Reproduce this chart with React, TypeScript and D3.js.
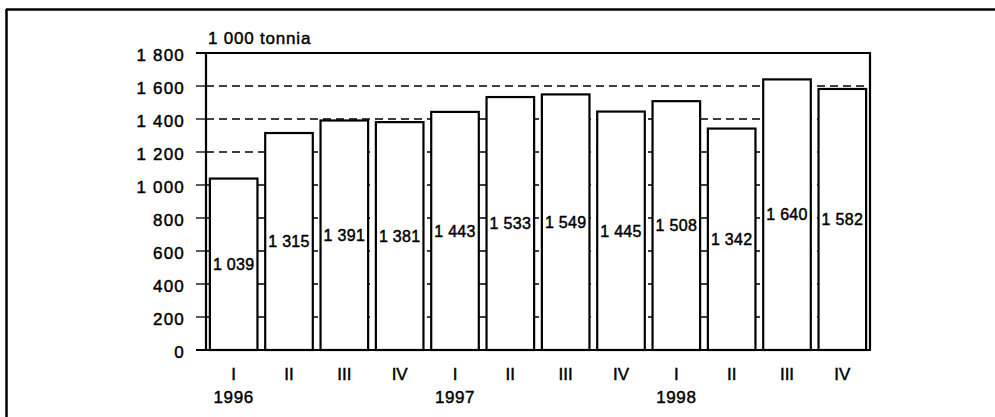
import React from "react";
import * as d3 from "d3";

const quarters = ["I", "II", "III", "IV", "I", "II", "III", "IV", "I", "II", "III", "IV"];
const years = ["1996", "", "", "", "1997", "", "", "", "1998", "", "", ""];
const values = [1039, 1315, 1391, 1381, 1443, 1533, 1549, 1445, 1508, 1342, 1640, 1582];
const yTicks = [0, 200, 400, 600, 800, 1000, 1200, 1400, 1600, 1800];
const unitLabel = "1 000 tonnia";

const W = 995;
const H = 417;
const left = 206;
const right = 870;
const top = 53;
const bottom = 350;

const fmt = (v: number) => {
  const s = String(v);
  return s.length > 3 ? s.slice(0, s.length - 3) + " " + s.slice(-3) : s;
};

export default function App() {
  const idx = values.map((_, i) => String(i));
  const x = d3.scaleBand<string>().domain(idx).range([left, right]).paddingInner(0.14).paddingOuter(0.07);
  const y = d3.scaleLinear().domain([0, 1800]).range([bottom, top]);
  const font = "'Liberation Sans', Arial, Helvetica, sans-serif";
  const ts = { stroke: "#000", strokeWidth: 0.45 } as const;

  return (
    <svg
      width={W}
      height={H}
      style={{ position: "absolute", left: 0, top: 0, background: "#fff" }}
      fontFamily={font}
    >
      <rect x={0} y={0} width={W} height={H} fill="#fff" />
      {/* outer frame */}
      <line x1={6} y1={9.5} x2={W} y2={9.5} stroke="#000" strokeWidth={2.5} />
      <line x1={6.5} y1={9} x2={6.5} y2={H} stroke="#000" strokeWidth={2.5} />

      {/* gridlines */}
      {yTicks.filter((t) => t > 0 && t < 1800).map((t) => (
        <line key={"g" + t} x1={left} x2={right} y1={y(t)} y2={y(t)} stroke="#000" strokeWidth={1.3} strokeDasharray="8 5" />
      ))}

      {/* bars */}
      {values.map((v, i) => (
        <rect
          key={"b" + i}
          x={x(String(i))}
          y={y(v)}
          width={x.bandwidth()}
          height={y(0) - y(v)}
          fill="#fff"
          stroke="#000"
          strokeWidth={2.2}
        />
      ))}

      {/* value labels */}
      {values.map((v, i) => (
        <text
          key={"v" + i}
          x={(x(String(i)) as number) + x.bandwidth() / 2}
          y={(y(v) + y(0)) / 2}
          dy="0.36em"
          textAnchor="middle"
          fontSize={16}
          letterSpacing={0.3}
          fill="#000"
          {...ts}
        >
          {fmt(v)}
        </text>
      ))}

      {/* plot frame */}
      <line x1={left} x2={left} y1={top} y2={bottom} stroke="#000" strokeWidth={2.2} />
      <line x1={right} x2={right} y1={top} y2={bottom} stroke="#000" strokeWidth={2.2} />
      <line x1={left - 10} x2={right + 1} y1={top} y2={top} stroke="#000" strokeWidth={2} />
      <line x1={left - 10} x2={right + 1} y1={bottom} y2={bottom} stroke="#000" strokeWidth={2.2} />

      {/* y ticks */}
      {yTicks.map((t) => (
        <g key={"t" + t}>
          <line x1={left - 10} x2={left} y1={y(t)} y2={y(t)} stroke="#000" strokeWidth={1.3} />
          <text x={185} y={y(t) + 2} dy="0.36em" textAnchor="end" fontSize={17} letterSpacing={1.2} fill="#000" {...ts}>
            {fmt(t)}
          </text>
        </g>
      ))}

      <text x={208} y={44} fontSize={17} letterSpacing={0.8} fill="#000" {...ts}>{unitLabel}</text>

      {/* x labels */}
      {quarters.map((q, i) => (
        <text key={"q" + i} x={(x(String(i)) as number) + x.bandwidth() / 2} y={374} dy="0.36em" textAnchor="middle" fontSize={17} fill="#000" {...ts}>
          {q}
        </text>
      ))}
      {years.map((yr, i) =>
        yr ? (
          <text key={"y" + i} x={(x(String(i)) as number) + x.bandwidth() / 2} y={397} dy="0.36em" textAnchor="middle" fontSize={17} letterSpacing={0.6} fill="#000" {...ts}>
            {yr}
          </text>
        ) : null
      )}
    </svg>
  );
}
